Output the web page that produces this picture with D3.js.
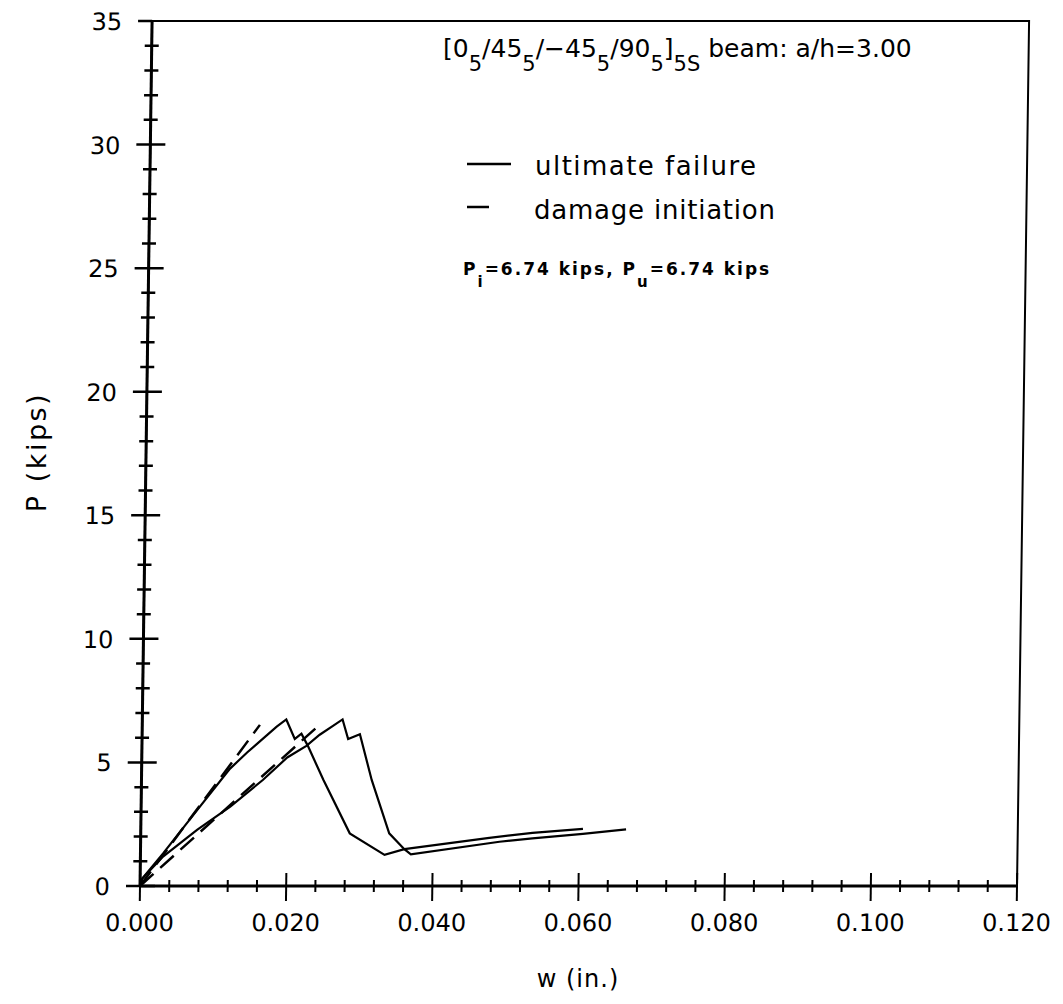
<!DOCTYPE html>
<html>
<head>
<meta charset="utf-8">
<script src="https://cdn.jsdelivr.net/npm/d3@7"></script>
<style>
  html, body { margin: 0; padding: 0; background: #fff; }
  svg { display: block; }
  text { font-family: "DejaVu Sans", "Liberation Sans", sans-serif; fill: #000; }
</style>
</head>
<body>
<script>
// ---------------- data (w in inches, P in kips) ----------------
const xTickValues = [0, 0.02, 0.04, 0.06, 0.08, 0.10, 0.12];
const xTickLabels = ["0.000", "0.020", "0.040", "0.060", "0.080", "0.100", "0.120"];
const yTickValues = [0, 5, 10, 15, 20, 25, 30, 35];
const yTickLabels = ["0", "5", "10", "15", "20", "25", "30", "35"];

// ultimate failure, curve 1 (stiffer)
const ult1_w = [0, 0.0003, 0.0031, 0.0077, 0.0121, 0.0144, 0.0184, 0.0197, 0.0209, 0.0218, 0.0227, 0.0249, 0.0286, 0.0334, 0.0361, 0.0477, 0.0536, 0.0605];
const ult1_P = [0, 0.30, 1.32, 3.08, 4.75, 5.40, 6.45, 6.74, 5.95, 6.16, 5.67, 4.29, 2.13, 1.26, 1.49, 1.95, 2.15, 2.31];
// ultimate failure, curve 2 (softer)
const ult2_w = [0, 0.0003, 0.0031, 0.0077, 0.0122, 0.0166, 0.0199, 0.0225, 0.0243, 0.0261, 0.0274, 0.0282, 0.0298, 0.0315, 0.0340, 0.0361, 0.0370, 0.0491, 0.0536, 0.0605, 0.0664];
const ult2_P = [0, 0.30, 1.19, 2.27, 3.21, 4.29, 5.20, 5.67, 6.12, 6.48, 6.74, 5.95, 6.14, 4.29, 2.13, 1.49, 1.28, 1.79, 1.93, 2.11, 2.29];
// damage initiation (dashed)
const dmg1_w = [0, 0.0161];
const dmg1_P = [0, 6.52];
const dmg2_w = [0, 0.0241];
const dmg2_P = [0, 6.48];

const titleParts = [["[0", 0], ["5", 1], ["/45", 0], ["5", 1], ["/−45", 0], ["5", 1], ["/90", 0], ["5", 1], ["]", 0], ["5S", 1], [" beam: a/h=3.00", 0]];
const legendLabels = ["ultimate failure", "damage initiation"];
const xTitle = "w (in.)";
const yTitle = "P (kips)";

// ---------------- layout ----------------
const W = 1063, H = 1004;
const svg = d3.select("body").append("svg").attr("width", W).attr("height", H);

const x = d3.scaleLinear().domain([0, 0.12]).range([140, 1017]);
const y = d3.scaleLinear().domain([0, 35]).range([886, 21]);

// the scanned original is slightly sheared; reproduce with a skew around the origin
const plot = svg.append("g")
  .attr("transform", `translate(${x(0)},${y(0)}) skewX(-0.8) translate(${-x(0)},${-y(0)})`);

// frame
plot.append("rect")
  .attr("x", x(0)).attr("y", y(35))
  .attr("width", x(0.12) - x(0)).attr("height", y(0) - y(35))
  .attr("fill", "none").attr("stroke", "#000").attr("stroke-width", 2);

// x axis ticks (minor every 0.004, major every 0.02)
const xMinor = d3.range(0, 0.1201, 0.004);
const isMajorX = d => Math.abs(d / 0.02 - Math.round(d / 0.02)) < 1e-6;
plot.append("g").selectAll("line").data(xMinor).join("line")
  .attr("x1", d => x(d)).attr("x2", d => x(d))
  .attr("y1", d => y(0) - (isMajorX(d) ? 13 : 6))
  .attr("y2", d => y(0) + (isMajorX(d) ? 15 : 6))
  .attr("stroke", "#000").attr("stroke-width", 2);

// y axis ticks (minor every 1, major every 5)
const yMinor = d3.range(0, 35.01, 1);
plot.append("g").selectAll("line").data(yMinor).join("line")
  .attr("y1", d => y(d)).attr("y2", d => y(d))
  .attr("x1", d => x(0) - (d % 5 === 0 ? 14 : 7))
  .attr("x2", d => x(0) + (d % 5 === 0 ? (d === 35 ? 0 : 15) : 7))
  .attr("stroke", "#000").attr("stroke-width", 2.5);

// axis lines (thicker)
plot.append("line").attr("x1", x(0)).attr("x2", x(0.12)).attr("y1", y(0)).attr("y2", y(0))
  .attr("stroke", "#000").attr("stroke-width", 3);
plot.append("line").attr("x1", x(0)).attr("x2", x(0)).attr("y1", y(0)).attr("y2", y(35))
  .attr("stroke", "#000").attr("stroke-width", 3);

// tick labels
plot.append("g").selectAll("text").data(xTickValues).join("text")
  .attr("x", d => x(d)).attr("y", y(0) + 45)
  .attr("text-anchor", "middle").attr("font-size", 24)
  .text((d, i) => xTickLabels[i]);
plot.append("g").selectAll("text").data(yTickValues).join("text")
  .attr("x", x(0) - 30).attr("y", d => y(d) + 9)
  .attr("text-anchor", "end").attr("font-size", 24)
  .text((d, i) => yTickLabels[i]);

// curves
const line = d3.line().x(d => x(d[0])).y(d => y(d[1]));
const zipPts = (a, b) => a.map((v, i) => [v, b[i]]);

[[dmg1_w, dmg1_P], [dmg2_w, dmg2_P]].forEach(([a, b]) => {
  plot.append("path").attr("d", line(zipPts(a, b)))
    .attr("fill", "none").attr("stroke", "#000").attr("stroke-width", 2.5)
    .attr("stroke-dasharray", "18,9");
});
[[ult1_w, ult1_P], [ult2_w, ult2_P]].forEach(([a, b]) => {
  plot.append("path").attr("d", line(zipPts(a, b)))
    .attr("fill", "none").attr("stroke", "#000").attr("stroke-width", 2.2)
    .attr("stroke-linejoin", "miter");
});

// ---------------- text outside the skew ----------------
// axis titles
svg.append("text").attr("x", 578).attr("y", 987).attr("text-anchor", "middle")
  .attr("font-size", 24).attr("letter-spacing", 1).text(xTitle);
svg.append("text").attr("transform", "translate(46,452) rotate(-90)")
  .attr("text-anchor", "middle").attr("font-size", 27).attr("letter-spacing", 2.5).text(yTitle);

// title
const t = svg.append("text").attr("x", 443).attr("y", 57).attr("font-size", 25);
let prevSub = 0;
titleParts.forEach(([s, sub]) => {
  const ts = t.append("tspan").text(s);
  if (sub !== prevSub) ts.attr("dy", sub ? 14 : -14);
  if (sub) ts.attr("font-size", 21);
  prevSub = sub;
});

// legend
svg.append("line").attr("x1", 467).attr("x2", 511).attr("y1", 164).attr("y2", 164)
  .attr("stroke", "#000").attr("stroke-width", 2.5);
svg.append("text").attr("x", 535).attr("y", 175).attr("font-size", 26)
  .attr("textLength", 221).attr("lengthAdjust", "spacing").text(legendLabels[0]);
svg.append("line").attr("x1", 467).attr("x2", 489).attr("y1", 207).attr("y2", 207)
  .attr("stroke", "#000").attr("stroke-width", 2.5);
svg.append("text").attr("x", 534).attr("y", 219).attr("font-size", 26)
  .attr("textLength", 241).attr("lengthAdjust", "spacing").text(legendLabels[1]);

// annotation
const a = svg.append("text").attr("x", 463).attr("y", 275).attr("font-size", 17)
  .attr("font-weight", "bold").attr("letter-spacing", 2);
a.append("tspan").text("P");
a.append("tspan").attr("dy", 12).attr("font-size", 15).text("i");
a.append("tspan").attr("dy", -12).text("=6.74 kips, P");
a.append("tspan").attr("dy", 12).attr("font-size", 15).text("u");
a.append("tspan").attr("dy", -12).text("=6.74 kips");
</script>
</body>
</html>
